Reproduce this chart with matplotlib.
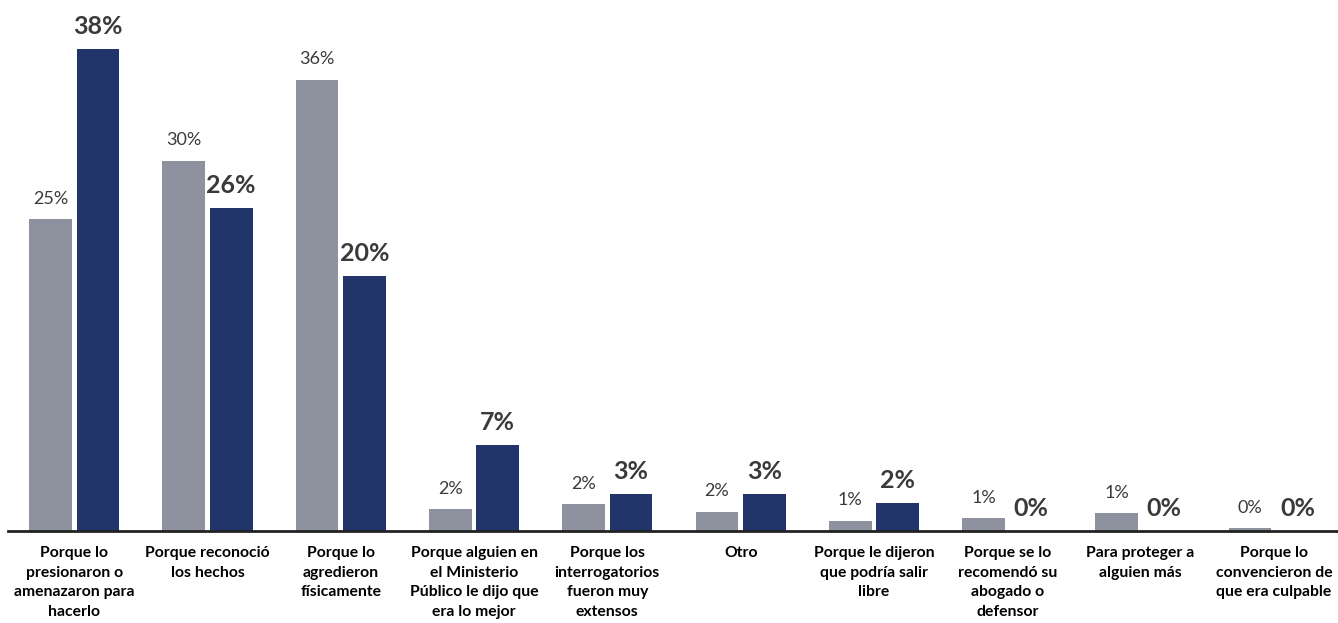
import matplotlib
matplotlib.use('Agg')
import matplotlib.pyplot as plt
import numpy as np

plt.rcParams['font.family'] = ['Lato', 'DejaVu Sans']

categories = [
    'Porque lo\npresionaron o\namenazaron para\nhacerlo',
    'Porque reconoció\nlos hechos',
    'Porque lo\nagredieron\nfísicamente',
    'Porque alguien en\nel Ministerio\nPúblico le dijo que\nera lo mejor',
    'Porque los\ninterrogatorios\nfueron muy\nextensos',
    'Otro',
    'Porque le dijeron\nque podría salir\nlibre',
    'Porque se lo\nrecomendó su\nabogado o\ndefensor',
    'Para proteger a\nalguien más',
    'Porque lo\nconvencieron de\nque era culpable',
]
gray_vals = [24.6, 29.2, 35.6, 1.7, 2.1, 1.5, 0.8, 1.0, 1.4, 0.2]
navy_vals = [38.0, 25.5, 20.1, 6.8, 2.9, 2.9, 2.2, 0.0, 0.0, 0.0]
gray_labels = ['25%', '30%', '36%', '2%', '2%', '2%', '1%', '1%', '1%', '0%']
navy_labels = ['38%', '26%', '20%', '7%', '3%', '3%', '2%', '0%', '0%', '0%']

GRAY = '#8e929e'
NAVY = '#21356b'
TXT = '#3a3a3a'

fig = plt.figure(figsize=(13.38, 6.23), dpi=100)
ax = fig.add_axes([7.5 / 1338, 92 / 623, 1333 / 1338, 507 / 623])

x = np.arange(len(categories))
w = 0.32
off = 0.178
gb = ax.bar(x - off, gray_vals, w, color=GRAY)
nb = ax.bar(x + off, navy_vals, w, color=NAVY)

for rect, lab in zip(gb, gray_labels):
    ax.annotate(lab, (rect.get_x() + rect.get_width() / 2, rect.get_height()),
                xytext=(0, 9), textcoords='offset points', ha='center',
                va='bottom', fontsize=13, color=TXT)
for rect, lab in zip(nb, navy_labels):
    ax.annotate(lab, (rect.get_x() + rect.get_width() / 2, rect.get_height()),
                xytext=(0, 8), textcoords='offset points', ha='center',
                va='bottom', fontsize=18, fontweight='bold', color=TXT)

ax.set_xlim(-0.5, len(categories) - 0.5)
ax.set_ylim(0, 40)
ax.set_xticks(x)
ax.set_xticklabels(categories, fontsize=11.3, fontweight='bold', color='black',
                   linespacing=1.5)
ax.tick_params(axis='x', length=0, pad=11)
ax.set_yticks([])
for s in ['top', 'right', 'left']:
    ax.spines[s].set_visible(False)
ax.spines['bottom'].set_color('#222222')
ax.spines['bottom'].set_linewidth(2)

fig.savefig('out.png', dpi=100)
